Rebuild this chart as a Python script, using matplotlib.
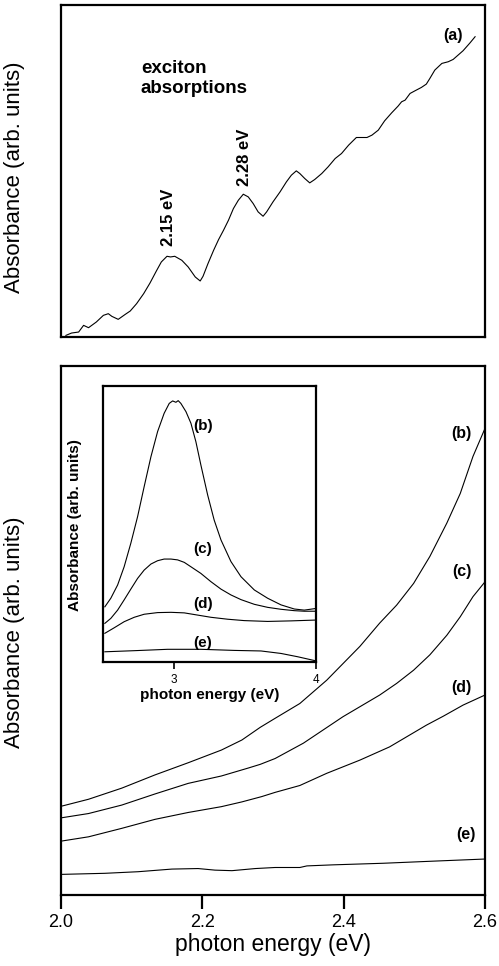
import matplotlib
matplotlib.use("Agg")
from matplotlib import pyplot as plt

plt.rcParams['font.family'] = ['Liberation Sans', 'DejaVu Sans']

# curve (a): exciton absorption, top panel
a_ev = [2.007, 2.015, 2.025, 2.032, 2.039, 2.050, 2.060, 2.067, 2.072, 2.081,
        2.091, 2.098, 2.107, 2.117, 2.126, 2.135, 2.142, 2.150, 2.155, 2.161,
        2.171, 2.180, 2.190, 2.197, 2.201, 2.208, 2.216, 2.223, 2.230, 2.237,
        2.244, 2.251, 2.258, 2.265, 2.272, 2.279, 2.286, 2.291, 2.300, 2.310,
        2.319, 2.326, 2.333, 2.338, 2.345, 2.352, 2.359, 2.369, 2.378, 2.388,
        2.397, 2.407, 2.418, 2.425, 2.433, 2.440, 2.449, 2.458, 2.468, 2.477,
        2.482, 2.487, 2.494, 2.501, 2.510, 2.517, 2.522, 2.529, 2.539, 2.548,
        2.555, 2.562, 2.569, 2.579, 2.586]
a_abs = [0.005, 0.012, 0.015, 0.035, 0.028, 0.045, 0.065, 0.070, 0.062, 0.053,
         0.068, 0.078, 0.100, 0.130, 0.162, 0.198, 0.225, 0.242, 0.240, 0.242,
         0.230, 0.210, 0.180, 0.168, 0.182, 0.220, 0.260, 0.292, 0.320, 0.350,
         0.385, 0.410, 0.428, 0.420, 0.400, 0.375, 0.362, 0.375, 0.405, 0.435,
         0.465, 0.485, 0.498, 0.490, 0.475, 0.462, 0.472, 0.490, 0.510, 0.535,
         0.550, 0.575, 0.598, 0.598, 0.598, 0.605, 0.620, 0.648, 0.672, 0.692,
         0.705, 0.710, 0.730, 0.738, 0.748, 0.758, 0.775, 0.800, 0.820, 0.825,
         0.832, 0.845, 0.858, 0.882, 0.900]

# curves (b)-(e), bottom panel
b_ev = [2.001, 2.039, 2.086, 2.133, 2.180, 2.227, 2.256, 2.282, 2.303, 2.338,
        2.376, 2.423, 2.451, 2.475, 2.499, 2.522, 2.546, 2.565, 2.583, 2.600]
b_abs = [0.168, 0.181, 0.202, 0.227, 0.250, 0.274, 0.293, 0.317, 0.334, 0.362,
         0.406, 0.470, 0.514, 0.548, 0.589, 0.640, 0.703, 0.759, 0.829, 0.882]
c_ev = [2.001, 2.039, 2.086, 2.133, 2.180, 2.227, 2.265, 2.282, 2.303, 2.343,
        2.399, 2.451, 2.475, 2.499, 2.522, 2.546, 2.565, 2.583, 2.600]
c_abs = [0.146, 0.154, 0.170, 0.191, 0.211, 0.225, 0.240, 0.247, 0.258, 0.287,
         0.337, 0.378, 0.400, 0.425, 0.454, 0.491, 0.526, 0.564, 0.592]
d_ev = [2.001, 2.039, 2.086, 2.133, 2.180, 2.227, 2.256, 2.284, 2.303, 2.338,
        2.376, 2.423, 2.465, 2.517, 2.541, 2.569, 2.600]
d_abs = [0.102, 0.110, 0.126, 0.143, 0.156, 0.167, 0.176, 0.186, 0.194, 0.207,
         0.230, 0.255, 0.280, 0.321, 0.338, 0.359, 0.378]
e_ev = [2.001, 2.062, 2.109, 2.157, 2.194, 2.218, 2.242, 2.275, 2.303, 2.338,
        2.348, 2.385, 2.456, 2.527, 2.600]
e_abs = [0.039, 0.041, 0.044, 0.049, 0.050, 0.047, 0.046, 0.050, 0.052, 0.052,
         0.055, 0.057, 0.060, 0.064, 0.068]

# inset curves
ib_ev = [2.511, 2.553, 2.601, 2.647, 2.694, 2.742, 2.788, 2.836, 2.883, 2.929,
         2.965, 2.989, 3.012, 3.028, 3.047, 3.083, 3.118, 3.153, 3.188, 3.236,
         3.282, 3.330, 3.400, 3.471, 3.565, 3.659, 3.753, 3.847, 3.917, 4.000]
ib_abs = [0.200, 0.231, 0.279, 0.345, 0.430, 0.527, 0.635, 0.744, 0.835, 0.901,
          0.937, 0.946, 0.941, 0.947, 0.937, 0.907, 0.865, 0.798, 0.714, 0.605,
          0.514, 0.442, 0.364, 0.309, 0.261, 0.231, 0.207, 0.192, 0.188, 0.194]
ic_ev = [2.511, 2.553, 2.601, 2.647, 2.694, 2.742, 2.788, 2.836, 2.883, 2.929,
         2.977, 3.024, 3.071, 3.118, 3.188, 3.259, 3.330, 3.400, 3.471, 3.565,
         3.659, 3.753, 3.847, 3.917, 4.000]
ic_abs = [0.140, 0.158, 0.188, 0.225, 0.264, 0.303, 0.333, 0.355, 0.367, 0.373,
          0.373, 0.370, 0.361, 0.345, 0.321, 0.291, 0.264, 0.243, 0.226, 0.209,
          0.198, 0.191, 0.186, 0.184, 0.184]
id_ev = [2.511, 2.577, 2.647, 2.718, 2.788, 2.883, 2.977, 3.071, 3.165, 3.259,
         3.377, 3.494, 3.659, 3.824, 4.000]
id_abs = [0.104, 0.124, 0.146, 0.162, 0.173, 0.179, 0.180, 0.178, 0.170, 0.162,
          0.155, 0.150, 0.147, 0.149, 0.152]
ie_ev = [2.511, 2.718, 2.953, 3.188, 3.423, 3.612, 3.753, 3.871, 4.000]
ie_abs = [0.037, 0.041, 0.046, 0.046, 0.042, 0.040, 0.031, 0.019, 0.004]

x_ticks = [2.0, 2.2, 2.4, 2.6]
x_ticklabels = ["2.0", "2.2", "2.4", "2.6"]
inset_ticks = [3, 4]

lw = 0.8
spine_w = 1.6

fig = plt.figure(figsize=(4.99, 9.66), dpi=100)

# top panel
ax1 = fig.add_axes([0.1222, 0.6511, 0.8497, 0.3437])
ax1.plot(a_ev, a_abs, color="black", lw=lw)
ax1.set_xlim(2.0, 2.6)
ax1.set_ylim(0, 0.995)
ax1.set_xticks([])
ax1.set_yticks([])
ax1.set_ylabel("Absorbance (arb. units)", fontsize=16)
ax1.yaxis.set_label_coords(-0.085, 0.48)
ax1.text(2.113, 0.83, "exciton\nabsorptions", fontsize=13.5, fontweight="bold",
         ha="left", va="top", linespacing=1.2)
ax1.text(2.152, 0.358, "2.15 eV", rotation=90, fontsize=12, fontweight="bold", ha="center", va="center")
ax1.text(2.260, 0.54, "2.28 eV", rotation=90, fontsize=12, fontweight="bold", ha="center", va="center")
ax1.text(2.555, 0.905, "(a)", fontsize=11.5, fontweight="bold", ha="center", va="center")

# bottom panel
ax2 = fig.add_axes([0.1222, 0.0735, 0.8497, 0.5476])
for ev, ab in [(b_ev, b_abs), (c_ev, c_abs), (d_ev, d_abs), (e_ev, e_abs)]:
    ax2.plot(ev, ab, color="black", lw=lw)
ax2.set_xlim(2.0, 2.6)
ax2.set_ylim(0, 1)
ax2.set_xticks(x_ticks)
ax2.set_xticklabels(x_ticklabels, fontsize=13)
ax2.set_yticks([])
ax2.tick_params(axis="x", direction="out", length=10, width=spine_w, pad=4)
ax2.set_xlabel("photon energy (eV)", fontsize=16.5, labelpad=1)
ax2.set_ylabel("Absorbance (arb. units)", fontsize=16)
ax2.yaxis.set_label_coords(-0.085, 0.497)
for lab, x, y in [("(b)", 2.567, 0.873), ("(c)", 2.567, 0.611), ("(d)", 2.567, 0.393), ("(e)", 2.573, 0.115)]:
    ax2.text(x, y, lab, fontsize=11.5, fontweight="bold", ha="center", va="center")

# inset
ax3 = fig.add_axes([0.2070, 0.3147, 0.4263, 0.2857])
for ev, ab in [(ib_ev, ib_abs), (ic_ev, ic_abs), (id_ev, id_abs), (ie_ev, ie_abs)]:
    ax3.plot(ev, ab, color="black", lw=lw)
ax3.set_xlim(2.5, 4.0)
ax3.set_ylim(0, 1)
ax3.set_xticks(inset_ticks)
ax3.set_xticklabels(["3", "4"], fontsize=8.5)
ax3.set_yticks([])
ax3.tick_params(axis="x", direction="out", length=5, width=1.2, pad=4)
ax3.set_xlabel("photon energy (eV)", fontsize=11, fontweight="bold", labelpad=1)
ax3.set_ylabel("Absorbance (arb. units)", fontsize=11, fontweight="bold")
ax3.yaxis.set_label_coords(-0.10, 0.496)
for lab, y in [("(b)", 0.855), ("(c)", 0.409), ("(d)", 0.210), ("(e)", 0.070)]:
    ax3.text(3.2, y, lab, fontsize=11, fontweight="bold", ha="center", va="center")

for ax in [ax1, ax2, ax3]:
    for s in ax.spines.values():
        s.set_linewidth(spine_w)

fig.savefig("out.png", dpi=100)
